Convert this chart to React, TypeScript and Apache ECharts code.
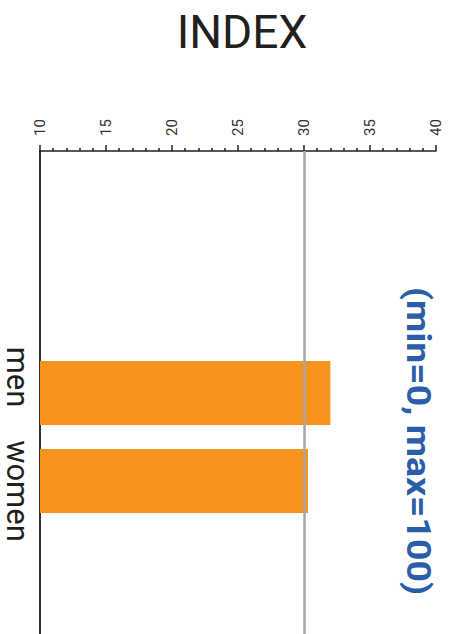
import React, { useEffect, useRef } from "react";
import * as echarts from "echarts";

const title = "INDEX";
const note = "(min=0, max=100)";
const categories = ["men", "women"];
const values = [32.0, 30.3];
const axisMin = 10;
const axisMax = 40;
const axisInterval = 5;
const referenceValue = 30;

export default function App() {
  const ref = useRef<HTMLDivElement>(null);
  useEffect(() => {
    if (!ref.current) return;
    const chart = echarts.init(ref.current, null, { renderer: "svg" });
    const font = "Roboto, 'Liberation Sans', sans-serif";
    const labelBase = { fontSize: 31, fontFamily: font, color: "#231f20" };
    chart.setOption({
      animation: false,
      backgroundColor: "#ffffff",
      grid: [
        { left: 40, right: 14, top: 151, bottom: -2, containLabel: false },
        { left: 40, right: 14, top: 349, height: 176, containLabel: false },
      ],
      xAxis: [
        {
          gridIndex: 0,
          type: "value",
          position: "top",
          min: axisMin,
          max: axisMax,
          interval: axisInterval,
          axisLine: { show: true, onZero: false, lineStyle: { color: "#231f20", width: 1.5 } },
          axisTick: { show: true, length: 6, lineStyle: { color: "#231f20", width: 1.5 } },
          minorTick: { show: true, splitNumber: 5, length: 3, lineStyle: { color: "#231f20", width: 1.5 } },
          axisLabel: {
            rotate: -90,
            margin: 15,
            fontSize: 15,
            fontFamily: font,
            color: "#333333",
          },
          splitLine: { show: false },
        },
        {
          gridIndex: 1,
          type: "value",
          min: axisMin,
          max: axisMax,
          interval: axisInterval,
          show: false,
        },
      ],
      yAxis: [
        {
          gridIndex: 0,
          type: "value",
          min: 0,
          max: 1,
          axisLine: { show: true, onZero: false, lineStyle: { color: "#333333", width: 2 } },
          axisTick: { show: false },
          axisLabel: { show: false },
          splitLine: { show: false },
        },
        {
          gridIndex: 1,
          type: "category",
          inverse: true,
          data: categories,
          axisLine: { show: false },
          axisTick: { show: false },
          axisLabel: {
            rotate: -90,
            interval: 0,
            hideOverlap: false,
            margin: 7,
            ...labelBase,
            formatter: (v: string, i: number) => (i === 0 ? `{a|${v}}` : `{b|${v}}`),
            rich: {
              a: { ...labelBase, padding: [0, 32, 0, 0] },
              b: { ...labelBase, padding: [0, 0, 0, 20] },
            },
          },
        },
      ],
      series: [
        {
          type: "line",
          xAxisIndex: 0,
          yAxisIndex: 0,
          data: [],
          silent: true,
          markLine: {
            silent: true,
            symbol: "none",
            label: { show: false },
            lineStyle: { color: "#a7a7a7", width: 2.5, type: "solid" },
            data: [{ xAxis: referenceValue }],
          },
        },
        {
          type: "bar",
          xAxisIndex: 1,
          yAxisIndex: 1,
          data: values,
          barWidth: 64,
          itemStyle: { color: "#f7941e" },
        },
      ],
      graphic: [
        {
          type: "text",
          x: 242,
          y: 32,
          style: {
            text: title,
            fontSize: 46,
            fontFamily: font,
            fill: "#231f20",
            textAlign: "center",
            textVerticalAlign: "middle",
          },
        },
        {
          type: "text",
          x: 418,
          y: 441,
          rotation: -Math.PI / 2,
          scaleX: 1.1,
          style: {
            text: note,
            fontSize: 34,
            fontWeight: "bold",
            fontFamily: font,
            fill: "#2a5ea8",
            textAlign: "center",
            textVerticalAlign: "middle",
          },
        },
      ],
    });
    return () => chart.dispose();
  }, []);
  return (
    <div
      ref={ref}
      style={{ position: "fixed", left: 0, top: 0, width: 450, height: 634 }}
    />
  );
}
